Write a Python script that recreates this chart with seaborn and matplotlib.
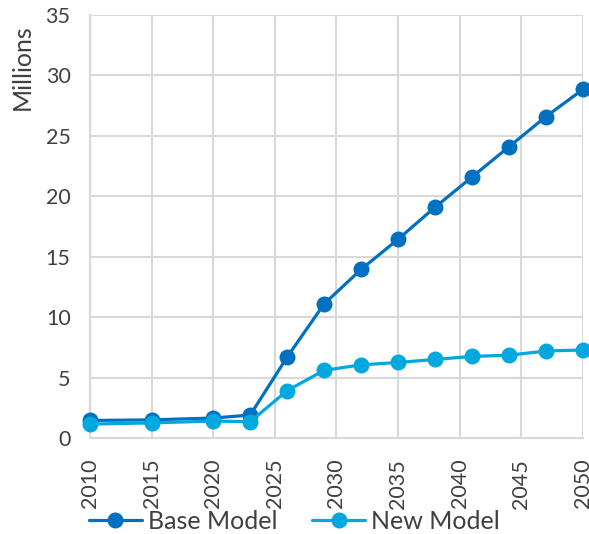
import matplotlib
matplotlib.use("Agg")
import matplotlib.pyplot as plt
import seaborn as sns
import pandas as pd

years = [2010, 2015, 2020, 2023, 2026, 2029, 2032, 2035, 2038, 2041, 2044, 2047, 2050]
base_model = [1.45, 1.5, 1.65, 1.9, 6.7, 11.1, 13.95, 16.45, 19.1, 21.6, 24.1, 26.6, 28.85]
new_model = [1.15, 1.25, 1.4, 1.35, 3.92, 5.6, 6.05, 6.25, 6.5, 6.75, 6.85, 7.2, 7.28]
series_names = ["Base Model", "New Model"]
x_ticks = [2010, 2015, 2020, 2025, 2030, 2035, 2040, 2045, 2050]
y_ticks = [0, 5, 10, 15, 20, 25, 30, 35]

df = pd.DataFrame({
    "Year": years * 2,
    "Value": base_model + new_model,
    "Series": [series_names[0]] * len(years) + [series_names[1]] * len(years),
})

sns.set_theme(style="white")
plt.rcParams["font.family"] = ["Lato", "DejaVu Sans"]

text_color = "#404040"
grid_color = "#D9D9D9"
palette = {"Base Model": "#0070C0", "New Model": "#00A8E0"}

fig = plt.figure(figsize=(5.89, 5.34), dpi=100)
ax = fig.add_axes([0.1528, 0.1798, 0.8370, 0.7921])

sns.lineplot(
    data=df, x="Year", y="Value", hue="Series", palette=palette,
    marker="o", markersize=11.5, markeredgewidth=0, linewidth=2.3,
    dashes=False, ax=ax, zorder=3, clip_on=False,
)

ax.set_xlim(2010, 2050)
ax.set_ylim(0, 35)
ax.set_xticks(x_ticks)
ax.set_yticks(y_ticks)
ax.set_xticklabels([str(t) for t in x_ticks], rotation=90)
ax.tick_params(axis="both", labelsize=15.5, colors=text_color, length=0)
ax.tick_params(axis="x", pad=15)
ax.tick_params(axis="y", pad=14)
ax.grid(True, color=grid_color, linewidth=1.5)
for side in ["top", "right"]:
    ax.spines[side].set_visible(False)
for side in ["left", "bottom"]:
    ax.spines[side].set_color(grid_color)
    ax.spines[side].set_linewidth(1.5)

ax.set_xlabel("")
ax.set_ylabel("Millions", fontsize=18, color=text_color)
ax.yaxis.set_label_coords(-0.115, 0.877)

handles, labels = ax.get_legend_handles_labels()
fig.legend(
    handles, labels, loc="center", bbox_to_anchor=(0.5, 0.024),
    ncol=2, frameon=False, fontsize=18, handlelength=2.1,
    columnspacing=1.4, handletextpad=0.25, labelcolor=text_color,
    borderaxespad=0, borderpad=0,
)
ax.get_legend().remove()

fig.savefig("out.png", dpi=100)
